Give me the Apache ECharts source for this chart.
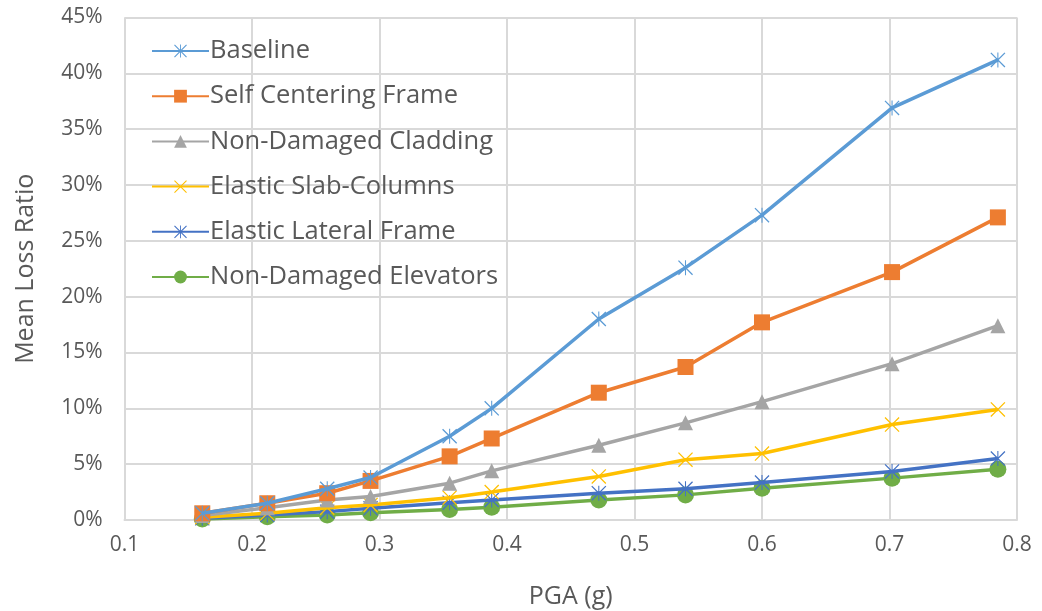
<!DOCTYPE html>
<html>
<head>
<meta charset="utf-8">
<script src="https://cdn.jsdelivr.net/npm/echarts@6/dist/echarts.min.js"></script>
<style>html,body{margin:0;padding:0;background:#fff}#c{width:1042px;height:611px}</style>
</head>
<body>
<div id="c"></div>
<script>
const pga = [0.161, 0.212, 0.259, 0.293, 0.355, 0.388, 0.472, 0.540, 0.600, 0.702, 0.785];
const seriesNames = ["Baseline", "Self Centering Frame", "Non-Damaged Cladding", "Elastic Slab-Columns", "Elastic Lateral Frame", "Non-Damaged Elevators"];
const baseline      = [0.6, 1.5, 2.8, 3.8, 7.5, 10.0, 18.0, 22.6, 27.3, 36.9, 41.2];
const selfCentering = [0.6, 1.5, 2.4, 3.5, 5.7, 7.3, 11.4, 13.7, 17.7, 22.2, 27.1];
const cladding      = [0.4, 1.1, 1.8, 2.1, 3.3, 4.4, 6.7, 8.7, 10.6, 14.0, 17.4];
const slabColumns   = [0.25, 0.6, 1.1, 1.35, 2.0, 2.5, 3.9, 5.4, 5.95, 8.55, 9.9];
const lateralFrame  = [0.15, 0.45, 0.75, 1.05, 1.55, 1.8, 2.4, 2.8, 3.35, 4.35, 5.5];
const elevators     = [0.1, 0.3, 0.45, 0.65, 0.95, 1.15, 1.8, 2.25, 2.85, 3.75, 4.55];
const xTicks = [0.1, 0.2, 0.3, 0.4, 0.5, 0.6, 0.7, 0.8];
const yTicks = [0, 5, 10, 15, 20, 25, 30, 35, 40, 45];

const colors = ["#5B9BD5", "#ED7D31", "#A5A5A5", "#FFC000", "#4472C4", "#70AD47"];
const ASTER = 'path://M0,1.2L1.2,0L20,18.8L18.8,20Z M18.8,0L20,1.2L1.2,20L0,18.8Z M9.3,0L10.7,0L10.7,20L9.3,20Z';
const XMARK = 'path://M0,1.2L1.2,0L20,18.8L18.8,20Z M18.8,0L20,1.2L1.2,20L0,18.8Z';
const symbols = [ASTER, 'rect', 'triangle', XMARK, ASTER, 'circle'];
const sizes = [15, 16, 15, 15, 15, 17];
const allData = [baseline, selfCentering, cladding, slabColumns, lateralFrame, elevators];
const font = "'Open Sans', 'Liberation Sans', sans-serif";
const txt = "#595959";

const chart = echarts.init(document.getElementById('c'));
chart.setOption({
  animation: false,
  color: colors,
  grid: { left: 124.5, right: 25, top: 17.5, bottom: 91, containLabel: false, outerBoundsMode: 'none' },
  legend: {
    orient: 'vertical', left: 146, top: 33,
    itemWidth: 57, itemHeight: 16, itemGap: 19.2,
    textStyle: { color: txt, fontSize: 25.5, fontFamily: font, padding: [0,0,0,-4] },
    data: seriesNames
  },
  xAxis: {
    type: 'value', min: 0.1, max: 0.8, interval: 0.1,
    name: 'PGA (g)', nameLocation: 'middle', nameGap: 64,
    nameTextStyle: { color: txt, fontSize: 25, fontFamily: font },
    axisLine: { show: true, lineStyle: { color: '#D9D9D9', width: 2 } },
    axisTick: { show: false },
    axisLabel: { color: txt, fontSize: 21, fontFamily: font, margin: 15, formatter: v => v.toFixed(1) },
    splitLine: { show: true, lineStyle: { color: '#D9D9D9', width: 2 } }
  },
  yAxis: {
    type: 'value', min: 0, max: 45, interval: 5,
    name: 'Mean Loss Ratio', nameLocation: 'middle', nameGap: 86,
    nameTextStyle: { color: txt, fontSize: 25, fontFamily: font },
    axisLine: { show: false }, axisTick: { show: false },
    axisLabel: { color: txt, fontSize: 21, fontFamily: font, margin: 22, formatter: '{value}%' },
    splitLine: { show: true, lineStyle: { color: '#D9D9D9', width: 2 } }
  },
  series: seriesNames.map((n, i) => ({
    name: n, type: 'line',
    data: pga.map((x, j) => [x, allData[i][j]]),
    symbol: symbols[i], symbolSize: sizes[i],
    showAllSymbol: true,
    lineStyle: { width: 3.5, color: colors[i] },
    itemStyle: { color: colors[i], borderWidth: 0 },
    z: 10 - i
  }))
});
</script>
</body>
</html>
